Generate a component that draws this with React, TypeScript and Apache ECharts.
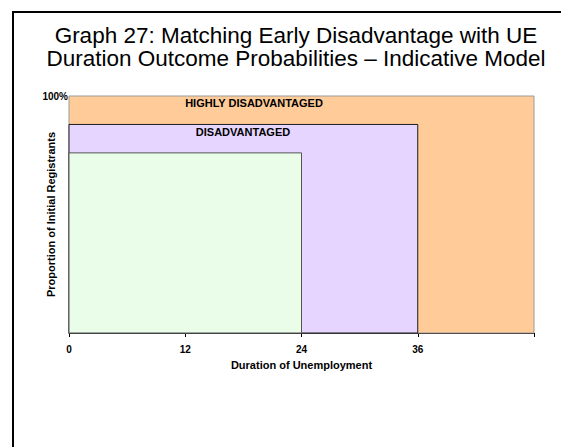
import React, { useEffect, useRef } from "react";
import * as echarts from "echarts";

const groups = ["HIGHLY DISADVANTAGED", "DISADVANTAGED", "LESS DISADVANTAGED"];
const durationEnd = [48, 36, 24];
const proportion = [100, 88, 76];
const xTicks = [0, 12, 24, 36, 48];
const fills = ["#FFCC99", "#E6D6FF", "#E9FDE9"];
const strokes = ["#9A9A9A", "#1A1A1A", "#555555"];

const FONT = "'Liberation Sans', Arial, sans-serif";

export default function App() {
  const ref = useRef<HTMLDivElement>(null);
  useEffect(() => {
    if (!ref.current) return;
    const chart = echarts.init(ref.current, null, { renderer: "svg" });
    chart.setOption({
      animation: false,
      backgroundColor: "#ffffff",
      title: {
        text: "Graph 27: Matching Early Disadvantage with UE\nDuration Outcome Probabilities – Indicative Model",
        left: 291,
        top: 19,
        textAlign: "center",
        textStyle: {
          fontFamily: FONT,
          fontSize: 22.5,
          fontWeight: "normal",
          color: "#000",
          lineHeight: 23,
        },
      },
      grid: { left: 69, right: 27, top: 96, bottom: 114 },
      xAxis: {
        type: "value",
        min: 0,
        max: 48,
        interval: 12,
        name: "Duration of Unemployment",
        nameLocation: "middle",
        nameGap: 26,
        nameMoveOverlap: false,
        nameTextStyle: { fontFamily: FONT, fontSize: 11, fontWeight: "bold", color: "#000" },
        axisLine: { show: true, lineStyle: { color: "#000", width: 1 } },
        axisTick: { show: true, length: 4, lineStyle: { color: "#000" } },
        splitLine: { show: false },
        axisLabel: {
          fontFamily: FONT,
          fontSize: 10,
          fontWeight: "bold",
          color: "#000",
          margin: 11,
          formatter: (v: number) => (xTicks.indexOf(v) >= 0 && v !== 48 ? String(v) : ""),
        },
      },
      yAxis: {
        type: "value",
        min: 0,
        max: 100,
        interval: 100,
        name: "Proportion of Initial Registrants",
        nameLocation: "middle",
        nameGap: 13,
        nameMoveOverlap: false,
        nameRotate: 90,
        nameTextStyle: { fontFamily: FONT, fontSize: 11, fontWeight: "bold", color: "#000" },
        axisLine: { show: false },
        axisTick: { show: false },
        splitLine: { show: false },
        axisLabel: {
          fontFamily: FONT,
          fontSize: 10,
          fontWeight: "bold",
          color: "#000",
          margin: 1,
          verticalAlign: "middle",
          formatter: (v: number) => (v === 100 ? "100%" : ""),
        },
      },
      series: [
        {
          type: "custom",
          data: groups.map((g, i) => [durationEnd[i], proportion[i], i]),
          renderItem: (params: any, api: any) => {
            const i = api.value(2);
            const p0 = api.coord([0, 0]);
            const p1 = api.coord([api.value(0), api.value(1)]);
            return {
              type: "rect",
              shape: { x: p0[0], y: p1[1], width: p1[0] - p0[0], height: p0[1] - p1[1] },
              style: { fill: fills[i], stroke: strokes[i], lineWidth: 1 },
            };
          },
          z: 1,
        },
      ],
      graphic: [
        {
          type: "rect",
          shape: { x: 13, y: 12, width: 600, height: 500 },
          style: { fill: "none", stroke: "#000", lineWidth: 2 },
          z: 100,
        },
        {
          type: "text",
          x: 254,
          y: 103,
          style: {
            text: groups[0],
            font: `bold 11px ${FONT}`,
            fill: "#000",
            textAlign: "center",
            textVerticalAlign: "middle",
          },
          z: 100,
        },
        {
          type: "text",
          x: 243,
          y: 132,
          style: {
            text: groups[1],
            font: `bold 11px ${FONT}`,
            fill: "#000",
            textAlign: "center",
            textVerticalAlign: "middle",
          },
          z: 100,
        },
      ],
    });
    return () => chart.dispose();
  }, []);
  return (
    <div
      ref={ref}
      style={{ position: "fixed", left: 0, top: 0, width: 561, height: 447 }}
    />
  );
}
